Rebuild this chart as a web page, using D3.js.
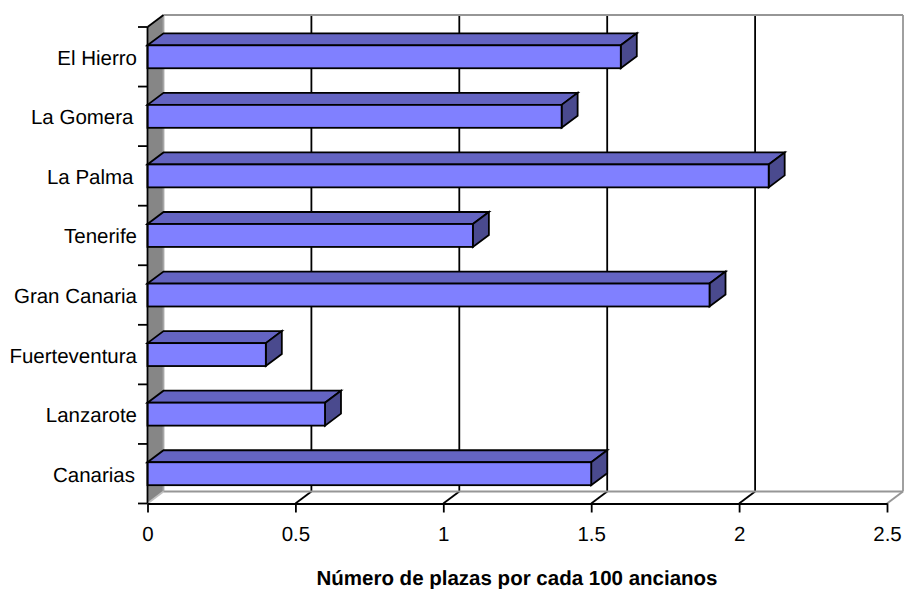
<!DOCTYPE html>
<html><head><meta charset="utf-8">
<script src="https://cdn.jsdelivr.net/npm/d3@7"></script>
<style>html,body{margin:0;background:#fff}svg{display:block}text{font-family:"Liberation Sans",Arial,sans-serif;fill:#000;text-rendering:geometricPrecision}</style>
</head><body><div id="c"></div>
<script>
const categories=["Canarias","Lanzarote","Fuerteventura","Gran Canaria","Tenerife","La Palma","La Gomera","El Hierro"];
const values=[1.5,0.6,0.4,1.9,1.1,2.1,1.4,1.6];
const xTicks=[0,0.5,1,1.5,2,2.5];
const xTitle="Número de plazas por cada 100 ancianos";
const W=904,H=589,dx=16,dy=-12,fs=20.5;
const svg=d3.select("#c").append("svg").attr("width",W).attr("height",H);
const x=d3.scaleLinear().domain([0,2.5]).range([147.5,887]);
const y=d3.scaleBand().domain(categories).range([503.5,27]).paddingInner(0.615).paddingOuter(0.3075);
const y0=503.5,y1=27,gray="#969696",sw=1.8,line=(g,a,b,c,d,col,w)=>g.append("line").attr("x1",a).attr("y1",b).attr("x2",c).attr("y2",d).attr("stroke",col).attr("stroke-width",w);
// walls
svg.append("path").attr("d",`M${x(0)},${y0}L${x(0)},${y1}L${x(0)+dx},${y1+dy}L${x(0)+dx},${y0+dy}Z`).attr("fill","#868686");
// gridlines
const g=svg.append("g");
xTicks.slice(1,-1).forEach(t=>{line(g,x(t)+dx,y1+dy,x(t)+dx,y0+dy,"#000",sw);line(g,x(t),y0,x(t)+dx,y0+dy,"#000",sw);});
line(g,x(0)+dx,y1+dy,x(2.5)+dx,y1+dy,gray,sw);
line(g,x(2.5)+dx,y1+dy,x(2.5)+dx,y0+dy,gray,sw);
line(g,x(0)+dx,y0+dy,x(2.5)+dx,y0+dy,gray,2);
line(g,x(2.5),y0,x(2.5)+dx,y0+dy,gray,2);
line(g,x(0),y0,x(0)+dx,y0+dy,"#c0c0c0",sw);
line(g,x(0)+dx,y1+dy,x(0)+dx,y0+dy,"#a6a6a6",sw);
line(g,x(0),y1,x(0)+dx,y1+dy,"#000",sw);
// bars
const bars=svg.append("g").selectAll("g").data(categories).join("g");
const st=s=>s.attr("stroke","#000").attr("stroke-width",sw).attr("stroke-linejoin","miter");
values.forEach((v,i)=>{
 const b=d3.select(bars.nodes()[i]);const X0=x(0),X=x(v),T=y(categories[i]),B=T+y.bandwidth();
 st(b.append("path").attr("d",`M${X0},${T}L${X0+dx},${T+dy}L${X+dx},${T+dy}L${X},${T}Z`).attr("fill","#6464c2"));
 st(b.append("path").attr("d",`M${X},${T}L${X+dx},${T+dy}L${X+dx},${B+dy}L${X},${B}Z`).attr("fill","#4a4a8e"));
 st(b.append("rect").attr("x",X0).attr("y",T).attr("width",X-X0).attr("height",y.bandwidth()).attr("fill","#8080ff"));
});
// axes
const ax=svg.append("g").attr("transform",`translate(0,${y0})`).call(d3.axisBottom(x).tickValues(xTicks).tickFormat(d=>String(d)).tickSize(9).tickSizeOuter(0));
ax.select(".domain").attr("stroke","#000").attr("stroke-width",sw);
ax.selectAll(".tick line").attr("stroke","#000").attr("stroke-width",sw);
ax.selectAll("text").attr("font-size",fs).attr("y",37).attr("dy",0).attr("font-family",'"Liberation Sans",Arial,sans-serif');
const ay=svg.append("g").attr("transform",`translate(${x(0)},0)`);
const bound=[...y.domain().map(d=>y(d)+y.bandwidth()/2+y.step()/2),y1];
line(ay,0,y0,0,y1,"#000",sw);
bound.forEach(p=>line(ay,-9.5,p,0,p,"#000",sw));
const endGap={"La Gomera":3.5,"La Palma":3.5,"Canarias":2};
ay.selectAll("text").data(categories).join("text").attr("x",d=>-10.5-(endGap[d]||0)).attr("y",d=>y(d)+y.bandwidth()/2+8).attr("text-anchor","end").attr("font-size",fs).text(d=>d);
svg.append("text").attr("x",517).attr("y",584.5).attr("text-anchor","middle").attr("font-size",fs).attr("font-weight","bold").text(xTitle);
</script></body></html>
